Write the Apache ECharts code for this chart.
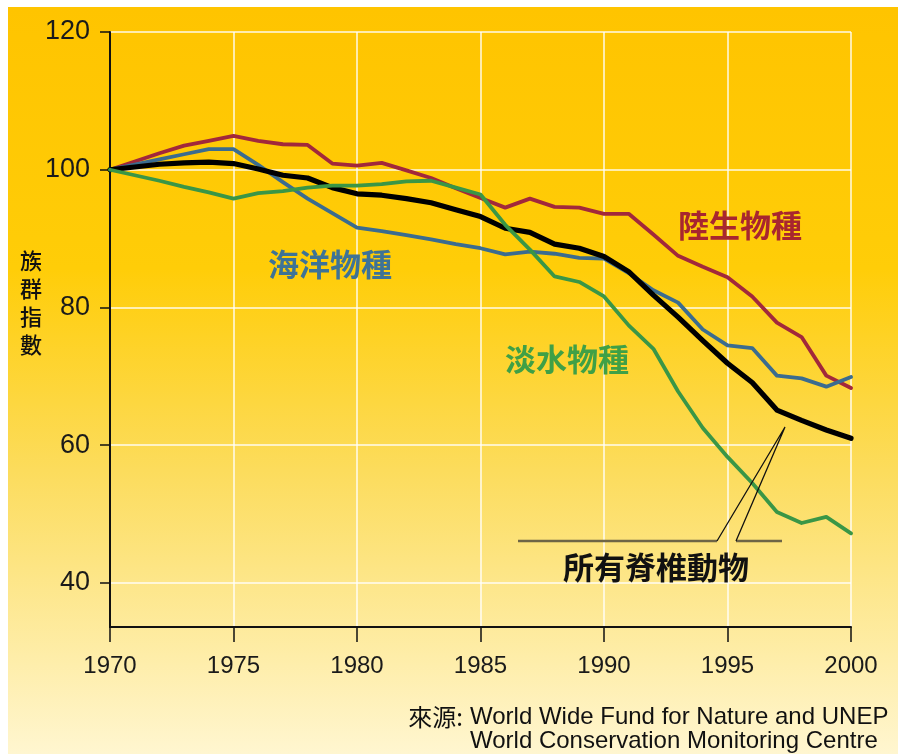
<!DOCTYPE html>
<html><head><meta charset="utf-8">
<script src="https://cdn.jsdelivr.net/npm/echarts@6/dist/echarts.min.js"></script>
<style>html,body{margin:0;padding:0;background:#fff}#c{width:898px;height:754px}</style>
</head><body><div id="c"></div>
<script>
const years = [1970,1971,1972,1973,1974,1975,1976,1977,1978,1979,1980,1981,1982,1983,1984,1985,1986,1987,1988,1989,1990,1991,1992,1993,1994,1995,1996,1997,1998,1999,2000];
const allVertebrates = [100,100.4,100.8,101.0,101.1,100.9,100.1,99.2,98.8,97.4,96.5,96.3,95.8,95.2,94.2,93.2,91.5,90.9,89.2,88.6,87.4,85.2,81.8,78.6,75.2,71.9,69.1,65.1,63.6,62.2,61.0];
const terrestrial = [100,101.2,102.4,103.5,104.2,104.9,104.2,103.7,103.6,100.9,100.6,101.0,99.9,98.8,97.3,95.9,94.5,95.8,94.6,94.5,93.6,93.6,90.6,87.5,85.9,84.4,81.6,77.8,75.7,70.1,68.3];
const marine = [100,100.75,101.5,102.25,103.0,103.0,100.7,98.2,95.8,93.7,91.6,91.1,90.5,89.9,89.2,88.6,87.7,88.1,87.8,87.2,87.1,85.0,82.5,80.7,76.8,74.5,74.1,70.1,69.7,68.5,69.9];
const freshwater = [100,99.2,98.4,97.5,96.7,95.8,96.6,96.9,97.4,97.7,97.7,97.9,98.3,98.4,97.4,96.4,92.0,88.4,84.5,83.7,81.6,77.4,74.0,67.8,62.5,58.3,54.5,50.3,48.7,49.6,47.2];
const yTickValues = [40,60,80,100,120];
const seriesNames = ['所有脊椎動物','陸生物種','海洋物種','淡水物種'];
const yAxisName = '族群指數';
const sourceLine1 = 'World Wide Fund for Nature and UNEP';
const sourceLine2 = 'World Conservation Monitoring Centre';
const sourceLabel = '來源:';

const pairs = arr => years.map((y,i)=>[y,arr[i]]);
const chart = echarts.init(document.getElementById('c'), null, {renderer:'canvas'});
const CJK = '"Noto Sans CJK TC","Noto Sans CJK SC",sans-serif';
const LATIN = '"Liberation Sans",Arial,sans-serif';

function lineSeries(name, data, color, width, z){
  return {name, type:'line', data:pairs(data), showSymbol:false, symbol:'none', z,
    lineStyle:{color, width, cap:'round', join:'round'}, emphasis:{disabled:true}, silent:true};
}

chart.setOption({
  animation:false,
  grid:{left:110, right:47, top:32, bottom:127, containLabel:false},
  xAxis:{type:'value', min:1970, max:2000, interval:5,
    axisLine:{show:true, lineStyle:{color:'#111', width:2}},
    axisTick:{show:true, length:15, lineStyle:{color:'#111', width:1.5}},
    axisLabel:{color:'#1a1a1a', fontSize:24, fontFamily:LATIN, margin:27, formatter:v=>String(v)},
    splitLine:{show:true, lineStyle:{color:'rgba(255,255,255,0.9)', width:1.5}}
  },
  yAxis:{type:'value', min:33.6, max:120,
    axisLine:{show:true, lineStyle:{color:'#111', width:2}},
    axisTick:{show:true, length:10, customValues:yTickValues, lineStyle:{color:'#111', width:1.5}},
    axisLabel:{customValues:yTickValues, color:'#1a1a1a', fontSize:27, fontFamily:LATIN, margin:20, padding:[4,0,0,0]},
    splitLine:{show:true, lineStyle:{color:'rgba(255,255,255,0.9)', width:1.5}}
  },
  series:[
    lineSeries(seriesNames[1], terrestrial, '#A2283B', 3.8, 3),
    lineSeries(seriesNames[2], marine, '#3B6C8F', 3.8, 4),
    lineSeries(seriesNames[0], allVertebrates, '#000000', 5.2, 5),
    lineSeries(seriesNames[3], freshwater, '#3A9646', 3.8, 6)
  ],
  graphic:[
    {type:'rect', z:-10, silent:true, shape:{x:8,y:7,width:890,height:747},
      style:{fill:new echarts.graphic.LinearGradient(0,0,0,1,[
        {offset:0,color:'#FFC400'},{offset:0.35,color:'#FFCD08'},{offset:0.62,color:'#FCDC5C'},{offset:1,color:'#FFF6D0'}])}},
    {type:'text', silent:true, x:31, y:303, style:{text:yAxisName.split('').join('\n'), font:'500 22px '+CJK, fill:'#111', align:'center', verticalAlign:'middle', lineHeight:28}, z:20},
    {type:'text', silent:true, x:740, y:225, style:{text:seriesNames[1], font:'bold 31px '+CJK, fill:'#A8262F', align:'center', verticalAlign:'middle'}, z:20},
    {type:'text', silent:true, x:330, y:264, style:{text:seriesNames[2], font:'bold 31px '+CJK, fill:'#3E7396', align:'center', verticalAlign:'middle'}, z:20},
    {type:'text', silent:true, x:567, y:359, style:{text:seriesNames[3], font:'bold 31px '+CJK, fill:'#3FA046', align:'center', verticalAlign:'middle'}, z:20},
    {type:'text', silent:true, x:656, y:567, style:{text:seriesNames[0], font:'bold 31px '+CJK, fill:'#111', align:'center', verticalAlign:'middle'}, z:20},
    {type:'polyline', silent:true, shape:{points:[[518,541],[717,541]]}, style:{stroke:'#6E6546', lineWidth:2.5, fill:null}, z:20},
    {type:'polyline', silent:true, shape:{points:[[736,541],[782,541]]}, style:{stroke:'#6E6546', lineWidth:2.5, fill:null}, z:20},
    {type:'polyline', silent:true, shape:{points:[[717,541],[785,427],[736,541]]}, style:{stroke:'#111', lineWidth:1.3, fill:null}, z:20},
    {type:'text', silent:true, x:463, y:717, style:{text:sourceLabel, font:'24px '+CJK, fill:'#111', align:'right', verticalAlign:'middle'}, z:20},
    {type:'text', silent:true, x:470, y:717, style:{text:sourceLine1, font:'24px '+LATIN, fill:'#111', align:'left', verticalAlign:'middle'}, z:20},
    {type:'text', silent:true, x:470, y:741, style:{text:sourceLine2, font:'24px '+LATIN, fill:'#111', align:'left', verticalAlign:'middle'}, z:20}
  ]
});
</script></body></html>
